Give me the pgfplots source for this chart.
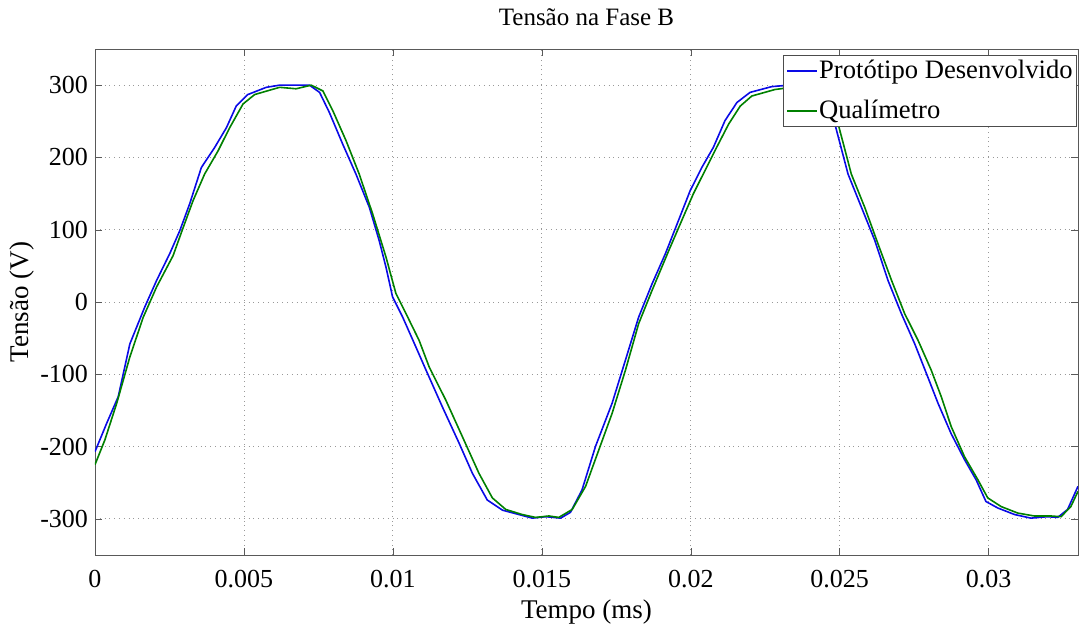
\documentclass[border=0pt]{standalone}
\usepackage{fontspec}
\setmainfont{Liberation Serif}
\usepackage{pgfplots}
\pgfplotsset{compat=1.18}
\definecolor{mblue}{RGB}{10,10,230}
\definecolor{mgreen}{RGB}{0,128,0}

\begin{document}
\begin{tikzpicture}
\useasboundingbox (-47.5pt,-36.5pt) rectangle (493pt,277.5pt);
\begin{axis}[
    at={(0,0)}, anchor=south west,
    scale only axis,
    width=491.5pt, height=253pt,
    xmin=0, xmax=0.033,
    ymin=-350, ymax=350,
    xtick={0,0.005,0.01,0.015,0.02,0.025,0.03},
    xticklabels={0,0.005,0.01,0.015,0.02,0.025,0.03},
    ytick={-300,-200,-100,0,100,200,300},
    scaled x ticks=false,
    /pgf/number format/assume math mode=true,
    tick align=inside,
    major tick length=3.5pt,
    axis line style={black!65},
    tick style={black!65},
    grid=major,
    major grid style={dotted, black!40},
    tick label style={font=\fontsize{13}{15}\selectfont},
    xticklabel style={yshift=-4pt},
    title={Tensão na Fase B},
    title style={font=\fontsize{12.5}{14}\selectfont, yshift=2pt},
    xlabel={Tempo (ms)},
    ylabel={Tensão (V)},
    label style={font=\fontsize{13.5}{15}\selectfont},
    xlabel style={yshift=1pt},
    ylabel style={yshift=-4pt},
    legend style={at={(0.999,0.988)}, anchor=north east,
        draw=black!70, fill=white, inner sep=1.5pt, row sep=7pt,
        font=\fontsize{13.3}{15}\selectfont,
        nodes={inner xsep=0.5pt, inner ysep=1pt}},
    legend cell align=left,
    legend image code/.code={\draw[#1] (0pt,0pt) -- (15pt,0pt);},
]
\addplot[color=mblue, draw=mblue, line width=0.8pt] coordinates {
(0,-207) (0.00039,-168) (0.00078,-131) (0.00117,-58) (0.00167,-7)
(0.00207,30) (0.00251,67) (0.00285,99) (0.00318,136) (0.00357,186)
(0.00402,214) (0.00441,241) (0.00474,271) (0.00513,287) (0.00575,297)
(0.0062,300) (0.0072,300) (0.00754,290) (0.00787,262) (0.00832,218)
(0.00876,177) (0.00921,131) (0.00954,85) (0.00977,48) (0.00999,7)
(0.01033,-21) (0.01077,-62) (0.01111,-94) (0.01166,-145) (0.01222,-195)
(0.01267,-237) (0.01317,-274) (0.01368,-288) (0.01423,-294) (0.01468,-299)
(0.01513,-297) (0.01563,-299) (0.01596,-291) (0.01635,-260) (0.0168,-200)
(0.01736,-140) (0.01781,-80) (0.01825,-21) (0.0187,25) (0.01915,67)
(0.01959,113) (0.01998,154) (0.02037,186) (0.02076,214) (0.02115,251)
(0.02155,276) (0.02199,290) (0.02272,298) (0.0233,300) (0.0240,300)
(0.0244,292) (0.0247,268) (0.02484,246) (0.02528,177) (0.02573,131)
(0.02618,85) (0.02662,30) (0.02707,-16) (0.02752,-58) (0.02796,-104)
(0.0283,-140) (0.02874,-182) (0.02919,-218) (0.02958,-246) (0.02991,-276)
(0.03031,-285) (0.03087,-294) (0.03142,-299) (0.03198,-297) (0.03232,-298)
(0.03265,-287) (0.0330,-255)
};
\addlegendentry{Protótipo Desenvolvido}
\addplot[color=mgreen, draw=mgreen, line width=0.8pt] coordinates {
(0,-225) (0.00033,-191) (0.00073,-140) (0.00117,-76) (0.00162,-21)
(0.00207,21) (0.00262,64) (0.00296,103) (0.00329,140) (0.00368,177)
(0.00413,209) (0.00452,241) (0.00497,274) (0.00536,287) (0.00586,293)
(0.0062,297) (0.00675,295) (0.00726,300) (0.00765,292) (0.00798,265)
(0.00843,223) (0.00887,177) (0.00932,122) (0.00977,62) (0.0101,12)
(0.01044,-16) (0.01088,-53) (0.01122,-90) (0.01178,-136) (0.01233,-186)
(0.01289,-237) (0.01334,-271) (0.01379,-287) (0.01434,-294) (0.01479,-298)
(0.01524,-296) (0.01557,-298) (0.01602,-287) (0.01647,-255) (0.01691,-205)
(0.01736,-154) (0.01781,-94) (0.01825,-30) (0.0187,16) (0.01926,71)
(0.0197,113) (0.02009,150) (0.02048,182) (0.02087,214) (0.02127,246)
(0.02166,271) (0.02205,285) (0.02283,294) (0.0234,297) (0.0241,300)
(0.0245,292) (0.0248,268) (0.02495,246) (0.02539,177) (0.02584,131)
(0.02629,80) (0.02674,30) (0.02718,-16) (0.02763,-53) (0.02807,-94)
(0.02841,-131) (0.02874,-172) (0.02919,-214) (0.02964,-246) (0.02997,-271)
(0.03042,-283) (0.03098,-292) (0.03153,-296) (0.03209,-296) (0.03243,-297)
(0.03276,-283) (0.0330,-262)
};
\addlegendentry{Qualímetro}
\end{axis}
\end{tikzpicture}
\end{document}
